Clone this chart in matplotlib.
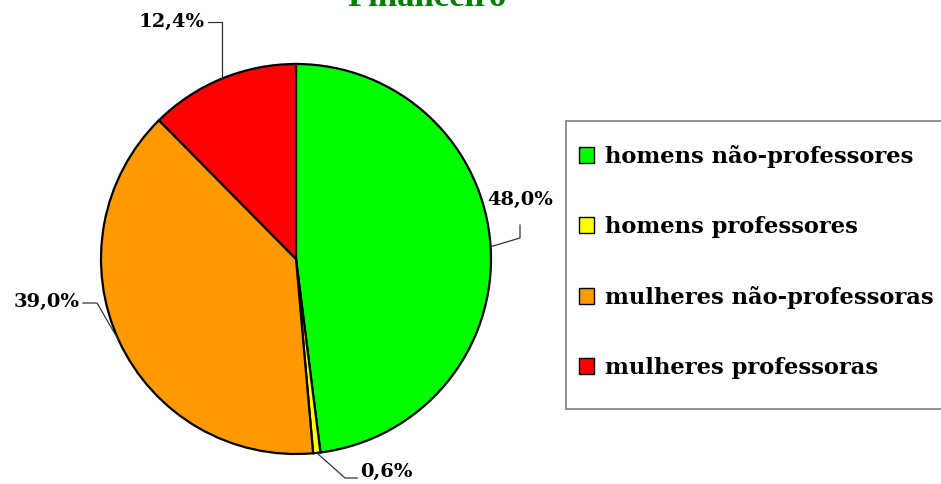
import numpy as np
import matplotlib.pyplot as plt
from matplotlib.patches import Patch, Rectangle

# dados
categorias = ["homens não-professores", "homens professores",
              "mulheres não-professoras", "mulheres professoras"]
valores = [48.0, 0.6, 39.0, 12.4]
rotulos = ["48,0%", "0,6%", "39,0%", "12,4%"]
cores = ["#00FF00", "#FFFF00", "#FF9900", "#FF0000"]
titulo = "Financeiro"

W, H = 941, 484
fig = plt.figure(figsize=(W / 100, H / 100), dpi=100)

# eixo da pizza: centro (296, 259) px, raio 195 px
cx, cy, r = 296, 259, 195
lim = 1.6
ax = fig.add_axes([(cx - r * lim) / W, (H - cy - r * lim) / H, 2 * r * lim / W, 2 * r * lim / H])

wedges, _ = ax.pie(valores, colors=cores, startangle=90, counterclock=False, radius=1,
                   wedgeprops=dict(edgecolor="black", linewidth=1.6))
ax.set_xlim(-lim, lim)
ax.set_ylim(-lim, lim)
ax.set_aspect("equal")
ax.axis("off")

px = lambda v: v / r  # pixels -> unidades do eixo

# rotulos com linhas de chamada
layout = {
    # rotulo: (cotovelo, fim da linha, posicao do texto, ha, va)
    "48,0%": ((224, 21), (224, 34), (224, 50), "center", "bottom"),
    "0,6%": ((49, -219), (61, -219), (64, -213), "left", "center"),
    "39,0%": ((-199, -44), (-213, -44), (-216, -43), "right", "center"),
    "12,4%": (None, (-88, 237), (-91, 237), "right", "center"),
}
for w, lab in zip(wedges, rotulos):
    ang = np.deg2rad((w.theta1 + w.theta2) / 2)
    x0, y0 = np.cos(ang), np.sin(ang)
    elbow, end, tpos, ha, va = layout[lab]
    if elbow is None:
        xs = [x0, x0, px(end[0])]
        ys = [y0, px(end[1]), px(end[1])]
    else:
        xs = [x0, px(elbow[0]), px(end[0])]
        ys = [y0, px(elbow[1]), px(end[1])]
    ax.plot(xs, ys, color="#333333", lw=0.9, clip_on=False)
    ax.text(px(tpos[0]), px(tpos[1]), lab, ha=ha, va=va, fontsize=14, fontweight="bold",
            family="DejaVu Serif", clip_on=False)

# titulo (cortado no topo)
fig.text(427 / W, 1 - 6.5 / H, titulo, ha="center", va="baseline", color="#008000",
         fontsize=25, fontweight="bold", family="Liberation Serif")

# legenda
fig.patches.append(Rectangle((565.6 / W, 1 - 409 / H), (W + 5 - 565.6) / W, (409 - 121) / H,
                             transform=fig.transFigure, facecolor="white",
                             edgecolor="#808080", linewidth=1.2, zorder=1))
handles = [Patch(facecolor=c, edgecolor="black", linewidth=1) for c in cores]
leg = fig.legend(handles, categorias, loc="upper left",
                 bbox_to_anchor=(579 / W, 1 - 145 / H),
                 prop=dict(family="DejaVu Serif", weight="bold", size=16.3),
                 handlelength=0.67, handleheight=0.67, handletextpad=0.5,
                 labelspacing=2.12, borderpad=0, borderaxespad=0,
                 frameon=False)
leg.set_zorder(2)

fig.savefig("out.png", dpi=100)
